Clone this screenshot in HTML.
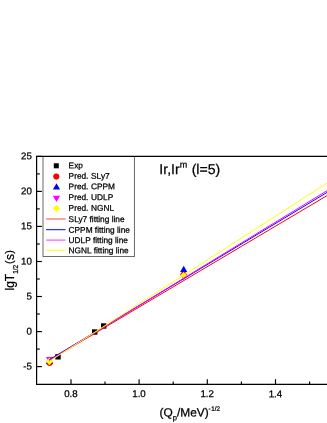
<!DOCTYPE html>
<html><head><meta charset="utf-8"><title>chart</title>
<style>html,body{margin:0;padding:0;background:#fff;overflow:hidden}svg{display:block;will-change:transform}text{font-family:"Liberation Sans",sans-serif;fill:#000;stroke:#000;stroke-width:0.25px}</style>
</head><body>
<svg width="327" height="423" viewBox="0 0 327 423">
<rect x="0" y="0" width="327" height="423" fill="#fff"/>
<rect x="55.30" y="354.10" width="5.4" height="5.4" fill="#000"/>
<rect x="92.00" y="329.30" width="5.4" height="5.4" fill="#000"/>
<rect x="101.00" y="323.30" width="5.4" height="5.4" fill="#000"/>
<circle cx="49.6" cy="362.9" r="3.05" fill="#f00"/>
<circle cx="183.6" cy="274.7" r="3.05" fill="#f00"/>
<path d="M49.5,357.90 L53.10,364.10 L45.90,364.10 Z" fill="#00f"/>
<path d="M183.7,265.70 L187.30,271.90 L180.10,271.90 Z" fill="#00f"/>
<path d="M49.6,363.30 L53.20,357.10 L46.00,357.10 Z" fill="#f0f"/>
<path d="M183.7,280.00 L187.30,273.80 L180.10,273.80 Z" fill="#f0f"/>
<path d="M49.45,357.75 L53.20,361.5 L49.45,365.25 L45.70,361.5 Z" fill="#ff0"/>
<path d="M183.6,272.10 L186.80,275.3 L183.6,278.50 L180.40,275.3 Z" fill="#ff0"/>
<line x1="49.3" y1="360.39" x2="340" y2="187.88" stroke="#f00" stroke-width="1.0"/>
<line x1="49.3" y1="359.70" x2="340" y2="184.61" stroke="#00f" stroke-width="1.0"/>
<line x1="49.3" y1="360.34" x2="340" y2="182.72" stroke="#f0f" stroke-width="1.0"/>
<line x1="49.3" y1="361.42" x2="340" y2="174.79" stroke="#ff0" stroke-width="1.0"/>
<rect x="43" y="156.5" width="91.45" height="100" fill="#fff" stroke="#6a6a6a" stroke-width="1"/>
<rect x="53.80" y="163.30" width="5.0" height="5.0" fill="#000"/>
<circle cx="56.3" cy="176.6" r="3.05" fill="#f00"/>
<path d="M56.5,183.20 L60.10,189.40 L52.90,189.40 Z" fill="#00f"/>
<path d="M56.5,202.00 L60.10,195.80 L52.90,195.80 Z" fill="#f0f"/>
<path d="M56.5,204.70 L60.20,208.4 L56.5,212.10 L52.80,208.4 Z" fill="#ff0"/>
<line x1="46.1" y1="219" x2="65.6" y2="219" stroke="#f44" stroke-width="1"/>
<line x1="46.1" y1="229.7" x2="65.6" y2="229.7" stroke="#00f" stroke-width="1"/>
<line x1="46.1" y1="240.1" x2="65.6" y2="240.1" stroke="#f3f" stroke-width="1"/>
<line x1="46.1" y1="250.2" x2="65.6" y2="250.2" stroke="#ff0" stroke-width="1"/>
<path d="M36.6,384.4 L36.6,156.4 L340,156.4" fill="none" stroke="#000" stroke-width="1.2" stroke-linejoin="miter"/>
<path d="M36.0,384.4 L340,384.4" fill="none" stroke="#000" stroke-width="1.2"/>
<line x1="36.6" y1="156.4" x2="41.9" y2="156.4" stroke="#000" stroke-width="1.15"/>
<line x1="36.6" y1="173.9" x2="39.8" y2="173.9" stroke="#000" stroke-width="1.15"/>
<line x1="36.6" y1="191.4" x2="41.9" y2="191.4" stroke="#000" stroke-width="1.15"/>
<line x1="36.6" y1="208.9" x2="39.8" y2="208.9" stroke="#000" stroke-width="1.15"/>
<line x1="36.6" y1="226.4" x2="41.9" y2="226.4" stroke="#000" stroke-width="1.15"/>
<line x1="36.6" y1="244.0" x2="39.8" y2="244.0" stroke="#000" stroke-width="1.15"/>
<line x1="36.6" y1="261.5" x2="41.9" y2="261.5" stroke="#000" stroke-width="1.15"/>
<line x1="36.6" y1="279.0" x2="39.8" y2="279.0" stroke="#000" stroke-width="1.15"/>
<line x1="36.6" y1="296.5" x2="41.9" y2="296.5" stroke="#000" stroke-width="1.15"/>
<line x1="36.6" y1="314.0" x2="39.8" y2="314.0" stroke="#000" stroke-width="1.15"/>
<line x1="36.6" y1="331.6" x2="41.9" y2="331.6" stroke="#000" stroke-width="1.15"/>
<line x1="36.6" y1="349.1" x2="39.8" y2="349.1" stroke="#000" stroke-width="1.15"/>
<line x1="36.6" y1="366.6" x2="41.9" y2="366.6" stroke="#000" stroke-width="1.15"/>
<line x1="71.0" y1="384.4" x2="71.0" y2="379.2" stroke="#000" stroke-width="1.15"/>
<line x1="105.0" y1="384.4" x2="105.0" y2="381.4" stroke="#000" stroke-width="1.15"/>
<line x1="139.1" y1="384.4" x2="139.1" y2="379.2" stroke="#000" stroke-width="1.15"/>
<line x1="173.2" y1="384.4" x2="173.2" y2="381.4" stroke="#000" stroke-width="1.15"/>
<line x1="207.3" y1="384.4" x2="207.3" y2="379.2" stroke="#000" stroke-width="1.15"/>
<line x1="241.4" y1="384.4" x2="241.4" y2="381.4" stroke="#000" stroke-width="1.15"/>
<line x1="275.5" y1="384.4" x2="275.5" y2="379.2" stroke="#000" stroke-width="1.15"/>
<line x1="309.6" y1="384.4" x2="309.6" y2="381.4" stroke="#000" stroke-width="1.15"/>
<g transform="matrix(1 0.0005 0 1 0 -0.08)">
<text x="32.1" y="159.4" font-size="9.7" text-anchor="end" stroke-width="0.08" letter-spacing="0.1">25</text>
<text x="32.1" y="194.4" font-size="9.7" text-anchor="end" stroke-width="0.08" letter-spacing="0.1">20</text>
<text x="32.1" y="229.4" font-size="9.7" text-anchor="end" stroke-width="0.08" letter-spacing="0.1">15</text>
<text x="32.1" y="264.5" font-size="9.7" text-anchor="end" stroke-width="0.08" letter-spacing="0.1">10</text>
<text x="32.1" y="299.5" font-size="9.7" text-anchor="end" stroke-width="0.08" letter-spacing="0.1">5</text>
<text x="32.1" y="334.6" font-size="9.7" text-anchor="end" stroke-width="0.08" letter-spacing="0.1">0</text>
<text x="32.1" y="369.6" font-size="9.7" text-anchor="end" stroke-width="0.08" letter-spacing="0.1">-5</text>
<text x="70.9" y="397.1" font-size="9.7" text-anchor="middle" stroke-width="0.08">0.8</text>
<text x="139.0" y="397.1" font-size="9.7" text-anchor="middle" stroke-width="0.08">1.0</text>
<text x="207.2" y="397.1" font-size="9.7" text-anchor="middle" stroke-width="0.08">1.2</text>
<text x="275.4" y="397.1" font-size="9.7" text-anchor="middle" stroke-width="0.08">1.4</text>
<text x="68.6" y="168.2" font-size="8.3">Exp</text>
<text x="68.6" y="178.9" font-size="8.3">Pred.<tspan dx="0.3"> </tspan>SLy7</text>
<text x="68.6" y="189.3" font-size="8.3">Pred.<tspan dx="0.3"> </tspan>CPPM</text>
<text x="68.6" y="200.1" font-size="8.3">Pred.<tspan dx="0.3"> </tspan>UDLP</text>
<text x="68.6" y="210.9" font-size="8.3">Pred.<tspan dx="0.3"> </tspan>NGNL</text>
<text x="68.6" y="222.0" font-size="8.3">SLy7 fitting line</text>
<text x="68.6" y="232.7" font-size="8.3">CPPM fitting line</text>
<text x="68.6" y="243.1" font-size="8.3">UDLP fitting line</text>
<text x="68.6" y="253.2" font-size="8.3">NGNL fitting line</text>
<text x="159.3" y="173.9" font-size="14.1">Ir,Ir<tspan font-size="9" dy="-6.4">m</tspan><tspan dy="6.4" dx="0.6"> (l=5)</tspan></text>
<text x="159.5" y="416.6" font-size="11.9">(Q<tspan font-size="7.6" dy="3.7" dx="0.1">p</tspan><tspan dy="-3.7" dx="0">/MeV)</tspan></text>
<text x="208.4" y="410.8" font-size="6.3">-<tspan dx="0.7">1/2</tspan></text>
</g>
<text transform="translate(13.9,290.5) rotate(-90)" font-size="12" stroke-width="0.15">lgT<tspan font-size="6.5" dy="4.1">1/2</tspan><tspan dy="-4.8" dx="0.9" font-size="10.8">(</tspan><tspan dy="0.7" dx="0.3">s</tspan><tspan dy="-0.7" dx="0.3" font-size="10.8">)</tspan></text>
</svg>
</body></html>
